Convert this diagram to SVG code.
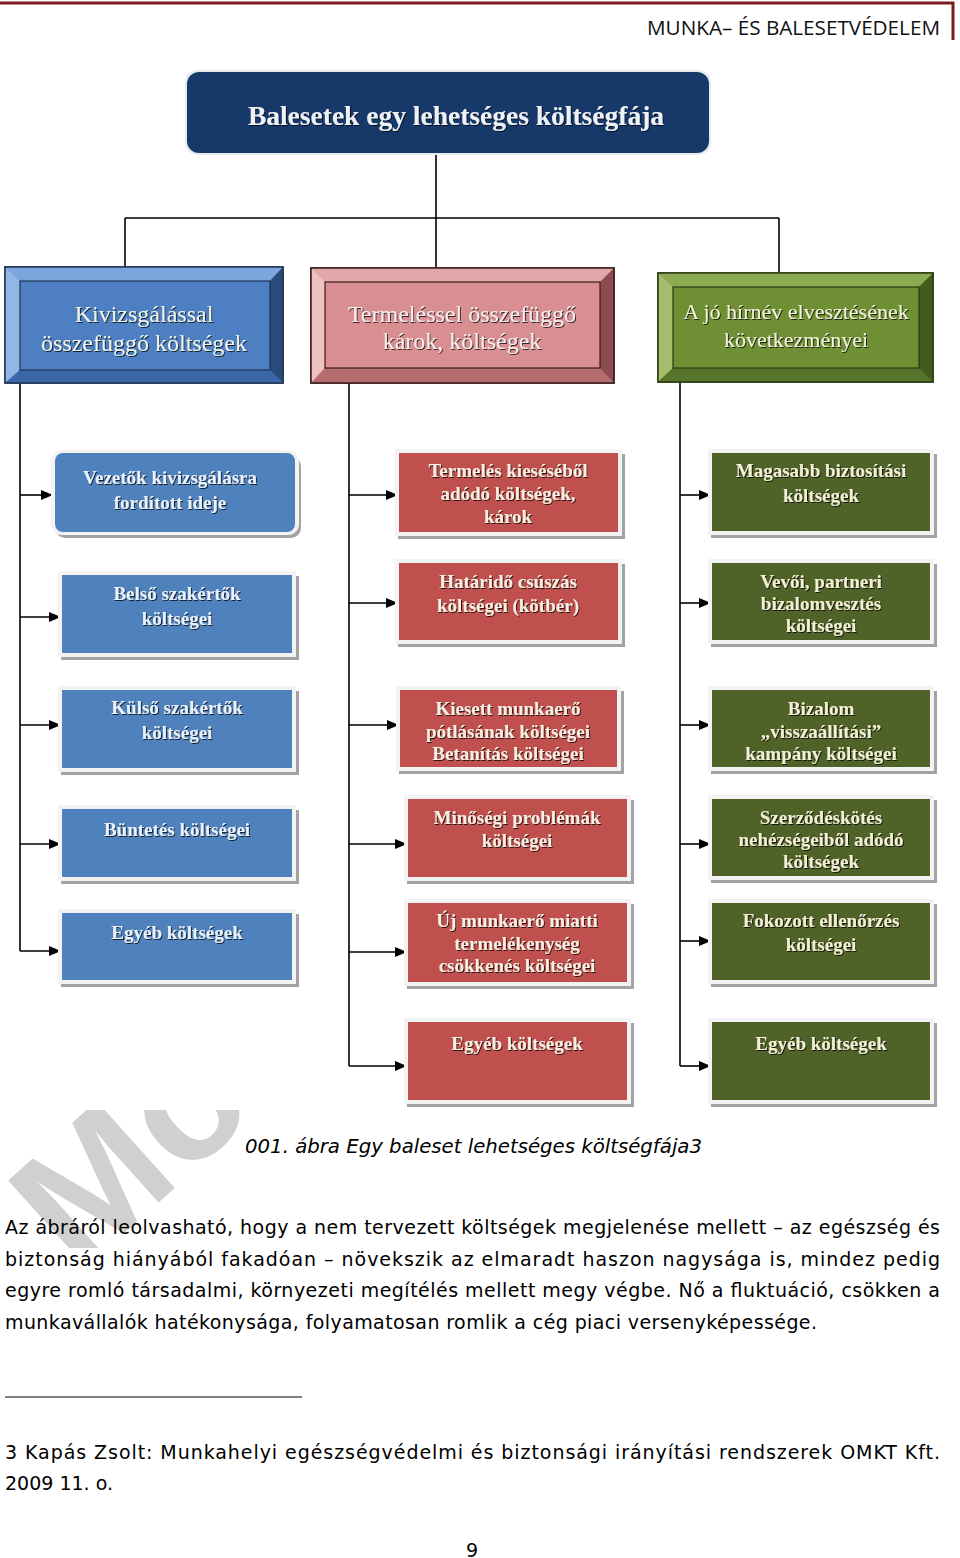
<svg xmlns="http://www.w3.org/2000/svg" width="960" height="1558" viewBox="0 0 960 1558">
<defs>
<style>
.lbl{font-family:"Liberation Serif","DejaVu Serif",serif;font-weight:bold;font-size:19px;text-anchor:middle;filter:url(#ts)}
.cat{font-family:"Liberation Serif","DejaVu Serif",serif;font-size:24px;text-anchor:middle;fill:#eef4ea;filter:url(#ts)}
.bl{fill:#e9f1fa}.rd{fill:#f8eee2}.gr{fill:#f3efd6}
.shadow{fill:#a3a3a3}
.frame{fill:#f3f3f3}
.bbox{fill:#4f81bd}.rbox{fill:#c0504d}.gbox{fill:#4f6228}
.con{stroke:#000;stroke-width:1.6;fill:none}
.arr{stroke:#000;stroke-width:1.6;fill:none;marker-end:url(#ah)}
.body{font-family:"DejaVu Sans","Verdana",sans-serif;font-size:19px;fill:#000}
</style>
<marker id="ah" markerUnits="userSpaceOnUse" markerWidth="12" markerHeight="10" refX="11" refY="5" orient="auto">
<path d="M0,0 L12,5 L0,10 Z" fill="#000"/>
</marker>
<filter id="ts" x="-5%" y="-20%" width="110%" height="140%">
<feDropShadow dx="1" dy="1" stdDeviation="0.7" flood-color="#000" flood-opacity="0.75"/>
</filter>
<clipPath id="wmclip"><rect x="0" y="1110" width="400" height="138"/></clipPath>
</defs>
<rect width="960" height="1558" fill="#fff"/>

<!-- watermark -->
<g clip-path="url(#wmclip)">
<text x="0" y="0" transform="translate(78,1275) rotate(-42)" font-family="Liberation Sans, Arial, sans-serif" font-weight="bold" font-size="170" fill="#d0d0d0">Mo</text>
</g>

<!-- header -->
<g id="header">
<path d="M0,3 H953 V40" stroke="#7a1b1f" stroke-width="3" fill="none"/>
<text x="940" y="35" text-anchor="end" font-family="Open Sans, DejaVu Sans, sans-serif" font-size="20" fill="#111" textLength="293" lengthAdjust="spacingAndGlyphs">MUNKA– ÉS BALESETVÉDELEM</text>
</g>

<!-- connectors -->
<g id="connectors">
<path class="con" d="M436,153 V218 M125,218 H779 M125,218 V267 M436,218 V267 M779,218 V272"/>
<path class="con" d="M20,383 V951 M349,383 V1066 M680,382 V1066"/>
<path class="arr" d="M20,495 H52"/>
<path class="arr" d="M20,617 H60"/>
<path class="arr" d="M20,725 H60"/>
<path class="arr" d="M20,844 H60"/>
<path class="arr" d="M20,951 H60"/>
<path class="arr" d="M349,495 H397"/>
<path class="arr" d="M349,603 H397"/>
<path class="arr" d="M349,725 H398"/>
<path class="arr" d="M349,844 H406"/>
<path class="arr" d="M349,952 H406"/>
<path class="arr" d="M349,1066 H406"/>
<path class="arr" d="M680,495 H710"/>
<path class="arr" d="M680,603 H710"/>
<path class="arr" d="M680,725 H710"/>
<path class="arr" d="M680,844 H710"/>
<path class="arr" d="M680,941 H710"/>
<path class="arr" d="M680,1066 H710"/>
</g>

<!-- root -->
<g id="root">
<rect x="185" y="70" width="526" height="85" rx="13" fill="#e6ebf0"/>
<rect x="187" y="72" width="522" height="81" rx="12" fill="#17396a"/>
<text x="456" y="125" text-anchor="middle" font-family="Liberation Serif, DejaVu Serif, serif" font-weight="bold" font-size="27.5" fill="#eef2f6" filter="url(#ts)">Balesetek egy lehetséges költségfája</text>
</g>

<!-- category: blue -->
<g id="cat-kivizsgalas">
<rect x="5" y="267" width="278" height="116" fill="#4a7cbf" stroke="#1e3556" stroke-width="1.5"/>
<polygon points="5,267 283,267 270,281 20,281" fill="#7ba6dc"/>
<polygon points="5,267 20,281 20,370 5,383" fill="#93b7e3"/>
<polygon points="5,383 20,370 270,370 283,383" fill="#3a68a6"/>
<polygon points="283,267 283,383 270,370 270,281" fill="#2a4a78"/>
<rect x="20" y="281" width="250" height="89" fill="#4d7fc2" stroke="#1e3556" stroke-width="1.2"/>
<rect x="5" y="267" width="278" height="116" fill="none" stroke="#1e3556" stroke-width="1.5"/>
<text class="cat" x="144" y="322">Kivizsgálással</text>
<text class="cat" x="144" y="351">összefüggő költségek</text>
</g>

<!-- category: red -->
<g id="cat-termeles">
<rect x="311" y="268" width="303" height="115" fill="#d48a8d" stroke="#3b1c1c" stroke-width="1.5"/>
<polygon points="311,268 614,268 600,282 325,282" fill="#e3a9aa"/>
<polygon points="311,268 325,282 325,368 311,383" fill="#efc2c2"/>
<polygon points="311,383 325,368 600,368 614,383" fill="#b46c6f"/>
<polygon points="614,268 614,383 600,368 600,282" fill="#8c4b4e"/>
<rect x="325" y="282" width="275" height="86" fill="#d98e91" stroke="#3b1c1c" stroke-width="1.2"/>
<rect x="311" y="268" width="303" height="115" fill="none" stroke="#3b1c1c" stroke-width="1.5"/>
<text class="cat" x="462" y="322" style="fill:#f6eeee">Termeléssel összefüggő</text>
<text class="cat" x="462" y="349" style="fill:#f6eeee">károk, költségek</text>
</g>

<!-- category: green -->
<g id="cat-hirnev">
<rect x="658" y="273" width="275" height="109" fill="#6b8b30" stroke="#2c3a12" stroke-width="1.5"/>
<polygon points="658,273 933,273 919,287 673,287" fill="#8cab50"/>
<polygon points="658,273 673,287 673,368 658,382" fill="#a3be6c"/>
<polygon points="658,382 673,368 919,368 933,382" fill="#56742a"/>
<polygon points="933,273 933,382 919,368 919,287" fill="#435c1e"/>
<rect x="673" y="287" width="246" height="81" fill="#6e8f33" stroke="#2c3a12" stroke-width="1.2"/>
<rect x="658" y="273" width="275" height="109" fill="none" stroke="#2c3a12" stroke-width="1.5"/>
<text class="cat" x="796" y="319" style="fill:#f2f2dc;font-size:22px">A jó hírnév elvesztésének</text>
<text class="cat" x="796" y="347" style="fill:#f2f2dc;font-size:22px">következményei</text>
</g>

<!-- blue children -->
<g id="b1">
<rect x="55" y="456" width="246" height="82" rx="10" class="shadow"/>
<rect x="51" y="450" width="248" height="85" rx="11" class="frame"/>
<rect x="55" y="453" width="240" height="79" rx="8" class="bbox"/>
<text class="lbl bl" x="170" y="484">Vezetők kivizsgálásra</text>
<text class="lbl bl" x="170" y="509">fordított ideje</text>
</g>
<g id="b2">
<rect x="61" y="576" width="238" height="84" class="shadow"/>
<rect x="58" y="571" width="238" height="86" class="frame"/>
<rect x="62" y="575" width="230" height="78" class="bbox"/>
<text class="lbl bl" x="177" y="600">Belső szakértők</text>
<text class="lbl bl" x="177" y="625">költségei</text>
</g>
<g id="b3">
<rect x="61" y="691" width="238" height="84" class="shadow"/>
<rect x="58" y="686" width="238" height="86" class="frame"/>
<rect x="62" y="690" width="230" height="78" class="bbox"/>
<text class="lbl bl" x="177" y="714">Külső szakértők</text>
<text class="lbl bl" x="177" y="739">költségei</text>
</g>
<g id="b4">
<rect x="61" y="810" width="238" height="74" class="shadow"/>
<rect x="58" y="805" width="238" height="76" class="frame"/>
<rect x="62" y="809" width="230" height="68" class="bbox"/>
<text class="lbl bl" x="177" y="836">Büntetés költségei</text>
</g>
<g id="b5">
<rect x="61" y="914" width="238" height="73" class="shadow"/>
<rect x="58" y="909" width="238" height="75" class="frame"/>
<rect x="62" y="913" width="230" height="67" class="bbox"/>
<text class="lbl bl" x="177" y="939">Egyéb költségek</text>
</g>

<!-- red children -->
<g id="r1">
<rect x="398" y="454" width="227" height="85" class="shadow"/>
<rect x="395" y="449" width="227" height="87" class="frame"/>
<rect x="399" y="453" width="219" height="79" class="rbox"/>
<text class="lbl rd" x="508" y="477">Termelés kieséséből</text>
<text class="lbl rd" x="508" y="500">adódó költségek,</text>
<text class="lbl rd" x="508" y="523">károk</text>
</g>
<g id="r2">
<rect x="398" y="564" width="227" height="83" class="shadow"/>
<rect x="395" y="559" width="227" height="85" class="frame"/>
<rect x="399" y="563" width="219" height="77" class="rbox"/>
<text class="lbl rd" x="508" y="588">Határidő csúszás</text>
<text class="lbl rd" x="508" y="612">költségei (kötbér)</text>
</g>
<g id="r3">
<rect x="399" y="691" width="225" height="83" class="shadow"/>
<rect x="396" y="686" width="225" height="85" class="frame"/>
<rect x="400" y="690" width="217" height="77" class="rbox"/>
<text class="lbl rd" x="508" y="715">Kiesett munkaerő</text>
<text class="lbl rd" x="508" y="738">pótlásának költségei</text>
<text class="lbl rd" x="508" y="760">Betanítás költségei</text>
</g>
<g id="r4">
<rect x="407" y="800" width="227" height="84" class="shadow"/>
<rect x="404" y="795" width="227" height="86" class="frame"/>
<rect x="408" y="799" width="219" height="78" class="rbox"/>
<text class="lbl rd" x="517" y="824">Minőségi problémák</text>
<text class="lbl rd" x="517" y="847">költségei</text>
</g>
<g id="r5">
<rect x="407" y="904" width="227" height="85" class="shadow"/>
<rect x="404" y="899" width="227" height="87" class="frame"/>
<rect x="408" y="903" width="219" height="79" class="rbox"/>
<text class="lbl rd" x="517" y="927">Új munkaerő miatti</text>
<text class="lbl rd" x="517" y="950">termelékenység</text>
<text class="lbl rd" x="517" y="972">csökkenés költségei</text>
</g>
<g id="r6">
<rect x="407" y="1023" width="227" height="84" class="shadow"/>
<rect x="404" y="1018" width="227" height="86" class="frame"/>
<rect x="408" y="1022" width="219" height="78" class="rbox"/>
<text class="lbl rd" x="517" y="1050">Egyéb költségek</text>
</g>

<!-- green children -->
<g id="g1">
<rect x="711" y="454" width="226" height="84" class="shadow"/>
<rect x="708" y="449" width="226" height="86" class="frame"/>
<rect x="712" y="453" width="218" height="78" class="gbox"/>
<text class="lbl gr" x="821" y="477">Magasabb biztosítási</text>
<text class="lbl gr" x="821" y="502">költségek</text>
</g>
<g id="g2">
<rect x="711" y="564" width="226" height="83" class="shadow"/>
<rect x="708" y="559" width="226" height="85" class="frame"/>
<rect x="712" y="563" width="218" height="77" class="gbox"/>
<text class="lbl gr" x="821" y="588">Vevői, partneri</text>
<text class="lbl gr" x="821" y="610">bizalomvesztés</text>
<text class="lbl gr" x="821" y="632">költségei</text>
</g>
<g id="g3">
<rect x="711" y="691" width="226" height="83" class="shadow"/>
<rect x="708" y="686" width="226" height="85" class="frame"/>
<rect x="712" y="690" width="218" height="77" class="gbox"/>
<text class="lbl gr" x="821" y="715">Bizalom</text>
<text class="lbl gr" x="821" y="738">„visszaállítási”</text>
<text class="lbl gr" x="821" y="760">kampány költségei</text>
</g>
<g id="g4">
<rect x="711" y="800" width="226" height="83" class="shadow"/>
<rect x="708" y="795" width="226" height="85" class="frame"/>
<rect x="712" y="799" width="218" height="77" class="gbox"/>
<text class="lbl gr" x="821" y="824">Szerződéskötés</text>
<text class="lbl gr" x="821" y="846">nehézségeiből adódó</text>
<text class="lbl gr" x="821" y="868">költségek</text>
</g>
<g id="g5">
<rect x="711" y="904" width="226" height="83" class="shadow"/>
<rect x="708" y="899" width="226" height="85" class="frame"/>
<rect x="712" y="903" width="218" height="77" class="gbox"/>
<text class="lbl gr" x="821" y="927">Fokozott ellenőrzés</text>
<text class="lbl gr" x="821" y="951">költségei</text>
</g>
<g id="g6">
<rect x="711" y="1023" width="226" height="84" class="shadow"/>
<rect x="708" y="1018" width="226" height="86" class="frame"/>
<rect x="712" y="1022" width="218" height="78" class="gbox"/>
<text class="lbl gr" x="821" y="1050">Egyéb költségek</text>
</g>

<!-- caption -->
<g id="caption">
<text x="245" y="1153" font-family="DejaVu Sans, sans-serif" font-style="italic" font-size="20" fill="#000" textLength="457" lengthAdjust="spacingAndGlyphs">001. ábra Egy baleset lehetséges költségfája3</text>
</g>

<!-- body text -->
<g id="body">
<text class="body" x="5" y="1234" textLength="935" lengthAdjust="spacing">Az ábráról leolvasható, hogy a nem tervezett költségek megjelenése mellett – az egészség és</text>
<text class="body" x="5" y="1266" textLength="935" lengthAdjust="spacing">biztonság hiányából fakadóan – növekszik az elmaradt haszon nagysága is, mindez pedig</text>
<text class="body" x="5" y="1297" textLength="935" lengthAdjust="spacing">egyre romló társadalmi, környezeti megítélés mellett megy végbe. Nő a fluktuáció, csökken a</text>
<text class="body" x="5" y="1329" textLength="812" lengthAdjust="spacing">munkavállalók hatékonysága, folyamatosan romlik a cég piaci versenyképessége.</text>
</g>

<!-- footnote -->
<g id="footnote">
<line x1="5" y1="1397" x2="302" y2="1397" stroke="#000" stroke-width="1"/>
<text class="body" x="5" y="1459" textLength="935" lengthAdjust="spacing">3 Kapás Zsolt: Munkahelyi egészségvédelmi és biztonsági irányítási rendszerek OMKT Kft.</text>
<text class="body" x="5" y="1490">2009 11. o.</text>
</g>

<g id="page">
<text class="body" x="472" y="1557" text-anchor="middle">9</text>
</g>
</svg>
